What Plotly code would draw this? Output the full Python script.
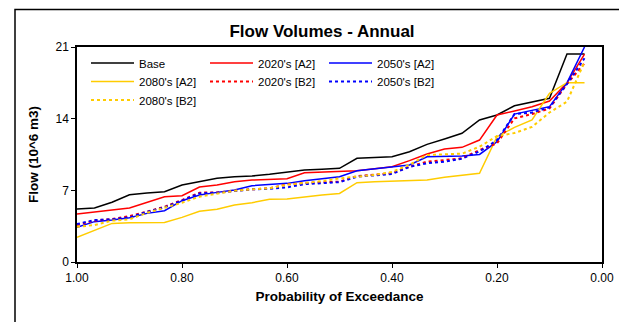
import plotly.graph_objects as go

# Probability of exceedance for 30 ranked annual values (i/30)
prob = [round((30 - k) / 30, 4) for k in range(30)]

base = [5.18, 5.27, 5.83, 6.57, 6.75, 6.87, 7.52, 7.84, 8.17, 8.33, 8.4, 8.56, 8.76, 8.98, 9.05,
        9.15, 10.13, 10.2, 10.28, 10.77, 11.49, 12.01, 12.57, 13.87, 14.36, 15.26, 15.6, 15.99, 20.31, 20.31]
a2_2020 = [4.69, 4.85, 5.08, 5.27, 5.79, 6.38, 6.48, 7.32, 7.52, 7.84, 8.0, 8.1, 8.14, 8.72, 8.77,
           8.82, 8.92, 9.1, 9.31, 9.9, 10.55, 11.03, 11.2, 11.91, 14.36, 14.75, 15.17, 15.72, 17.5, 20.3]
a2_2050 = [3.39, 3.94, 4.1, 4.33, 4.75, 5.01, 5.99, 6.54, 6.8, 7.03, 7.45, 7.58, 7.68, 7.94, 8.1,
           8.33, 8.92, 9.1, 9.31, 9.47, 10.28, 10.28, 10.35, 10.51, 11.75, 14.45, 14.78, 15.17, 17.5, 21.0]
a2_2080 = [2.41, 3.12, 3.77, 3.84, 3.87, 3.87, 4.36, 4.95, 5.15, 5.57, 5.79, 6.12, 6.15, 6.38, 6.54,
           6.7, 7.75, 7.83, 7.91, 7.95, 8.0, 8.27, 8.5, 8.66, 12.24, 13.15, 13.87, 16.47, 17.51, 17.51]
b2_2020 = [3.61, 4.04, 4.2, 4.49, 4.91, 5.4, 6.05, 6.77, 6.8, 6.97, 7.1, 7.2, 7.58, 7.7, 7.8,
           7.85, 8.4, 8.5, 8.66, 9.31, 9.8, 9.96, 10.13, 10.94, 11.59, 14.03, 14.45, 15.0, 17.4, 19.4]
b2_2050 = [3.7, 4.1, 4.17, 4.36, 4.9, 5.34, 6.0, 6.7, 6.77, 6.97, 7.1, 7.15, 7.29, 7.6, 7.7,
           7.8, 8.33, 8.45, 8.6, 9.3, 9.64, 9.8, 10.1, 10.8, 11.9, 14.45, 14.6, 15.1, 17.4, 19.9]
b2_2080 = [3.45, 3.6, 4.04, 4.17, 4.8, 5.3, 5.79, 6.38, 6.7, 6.97, 7.1, 7.2, 7.55, 7.7, 7.9,
           8.17, 8.3, 8.5, 8.8, 9.5, 10.45, 10.51, 10.58, 11.26, 12.3, 12.6, 13.2, 14.6, 15.66, 19.56]

x_ticks = [1.0, 0.8, 0.6, 0.4, 0.2, 0.0]
x_ticklabels = ["1.00", "0.80", "0.60", "0.40", "0.20", "0.00"]
y_ticks = [0, 7, 14, 21]

FONT = "Liberation Sans, Arial, sans-serif"
BLACK = "#000000"
RED = "#FF0000"
BLUE = "#0000FF"
GOLD = "#FFCC00"

series = [
    ("Base", base, BLACK, "solid", "legend"),
    ("2020's [A2]", a2_2020, RED, "solid", "legend"),
    ("2050's [A2]", a2_2050, BLUE, "solid", "legend"),
    ("2080's [A2]", a2_2080, GOLD, "solid", "legend2"),
    ("2020's [B2]", b2_2020, RED, "dot", "legend2"),
    ("2050's [B2]", b2_2050, BLUE, "dot", "legend2"),
    ("2080's [B2]", b2_2080, GOLD, "dot", "legend3"),
]

fig = go.Figure()
for name, vals, color, dash, leg in series:
    fig.add_trace(go.Scatter(
        x=prob, y=vals, name=name, mode="lines", legend=leg,
        line=dict(color=color, width=2 if dash == "dot" else 1.5, dash=dash),
    ))

# page body has an 8px default margin: figure spans screen 8..627 x 8..322
OFF = 8
W, H = 627 - OFF, 322 - OFF
PL, PR, PT, PB = 77, 602, 47, 262  # plot area in screen pixels
L, R, T, B = PL - OFF, 627 - PR, PT - OFF, 322 - PB
pw, ph = PR - PL, PB - PT

def px(xs):
    return (xs - PL) / pw

def py(ys):
    return (PB - ys) / ph

leg_common = dict(
    orientation="h", xanchor="left", yanchor="middle",
    entrywidth=61, entrywidthmode="pixels",
    font=dict(family=FONT, size=11.5, color=BLACK),
    bgcolor="rgba(0,0,0,0)", itemwidth=43, tracegroupgap=0,
)

fig.update_layout(
    width=W, height=H,
    margin=dict(l=L, r=R, t=T, b=B),
    paper_bgcolor="white", plot_bgcolor="white",
    font=dict(family=FONT, size=12, color=BLACK),
    title=dict(text="<b>Flow Volumes - Annual</b>", font=dict(family=FONT, size=17, color=BLACK),
               x=px(322), xref="paper", xanchor="center", y=1 - (31 - OFF) / H, yref="container", yanchor="middle"),
    legend=dict(x=px(86), y=py(63), **leg_common),
    legend2=dict(x=px(86), y=py(81.5), **leg_common),
    legend3=dict(x=px(86), y=py(100), **leg_common),
    xaxis=dict(
        range=[1.0, 0.0], tickvals=x_ticks, ticktext=x_ticklabels,
        showgrid=False, zeroline=False, showline=True, linecolor=BLACK, linewidth=1.5,
        mirror=True, ticks="outside", ticklen=4, tickcolor=BLACK, tickwidth=1,
        tickfont=dict(family=FONT, size=12, color=BLACK),
        title=dict(text="<b>Probability of Exceedance</b>", font=dict(family=FONT, size=13.5, color=BLACK), standoff=7),
    ),
    yaxis=dict(
        range=[0, 21], tickvals=y_ticks,
        showgrid=False, zeroline=False, showline=True, linecolor=BLACK, linewidth=1.5,
        mirror=True, ticks="outside", ticklen=4, tickcolor=BLACK, tickwidth=1,
        tickfont=dict(family=FONT, size=12, color=BLACK),
        title=dict(text="<b>Flow (10^6 m3)</b>", font=dict(family=FONT, size=13.5, color=BLACK), standoff=14),
    ),
    shapes=[dict(type="rect", xref="paper", yref="paper",
                 x0=px(15), x1=px(660), y0=py(360), y1=py(9.5),
                 line=dict(color=BLACK, width=1.5), layer="below")],
)

fig.write_html("out.html")
